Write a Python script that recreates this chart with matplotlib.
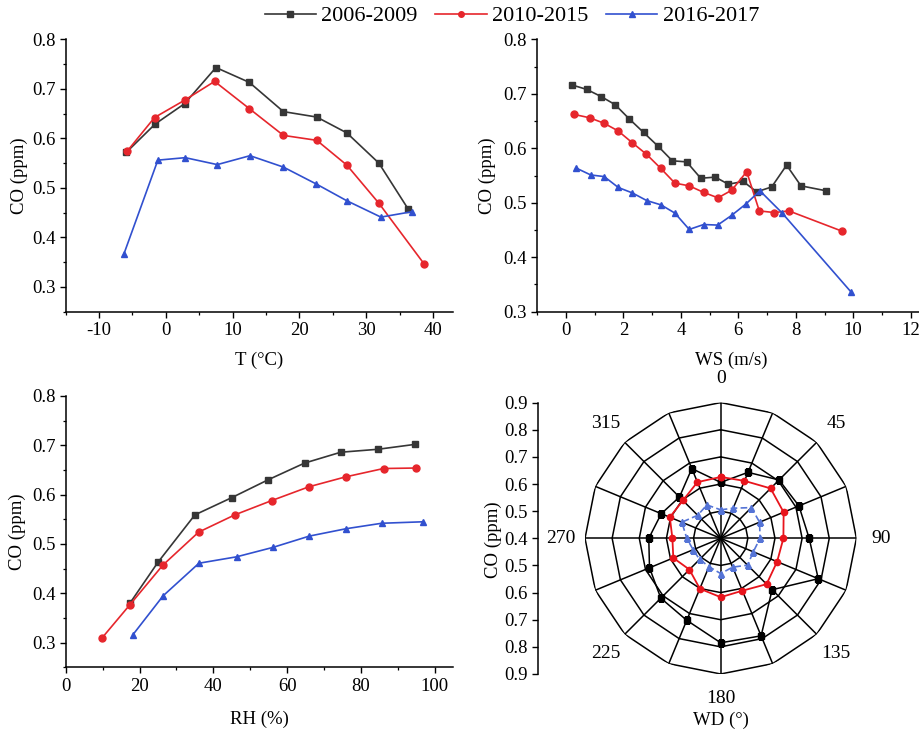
import numpy as np
import matplotlib
matplotlib.use('Agg')
import matplotlib.pyplot as plt
from matplotlib.lines import Line2D
from matplotlib.ticker import MultipleLocator

plt.rcParams['font.family'] = ['Liberation Serif', 'DejaVu Serif']
plt.rcParams['mathtext.fontset'] = 'stix'
plt.rcParams['axes.unicode_minus'] = False

C_BLACK = '#363636'
C_RED = '#E6262C'
C_BLUE = '#3150CF'
PERIODS = ['2006-2009', '2010-2015', '2016-2017']

# ── Temperature ──────────────────────────────────────────────────────────────
t_black = [-5.9, -1.6, 2.8, 7.5, 12.5, 17.6, 22.6, 27.1, 31.9, 36.3]
co_t_black = [0.572, 0.629, 0.670, 0.743, 0.713, 0.654, 0.643, 0.611, 0.550, 0.457]
t_red = [-5.8, -1.7, 2.8, 7.3, 12.5, 17.6, 22.6, 27.1, 31.9, 38.7]
co_t_red = [0.574, 0.642, 0.677, 0.715, 0.660, 0.606, 0.596, 0.546, 0.469, 0.346]
t_blue = [-6.3, -1.2, 2.9, 7.7, 12.6, 17.6, 22.5, 27.1, 32.2, 36.9]
co_t_blue = [0.366, 0.556, 0.561, 0.547, 0.565, 0.542, 0.508, 0.474, 0.441, 0.452]

# ── Wind speed ───────────────────────────────────────────────────────────────
ws_black = [0.22, 0.72, 1.22, 1.71, 2.20, 2.70, 3.20, 3.70, 4.20, 4.69, 5.20,
            5.65, 6.17, 6.64, 7.16, 7.68, 8.18, 9.05]
co_ws_black = [0.716, 0.708, 0.695, 0.680, 0.654, 0.629, 0.604, 0.577, 0.575,
               0.545, 0.547, 0.534, 0.539, 0.520, 0.529, 0.569, 0.531, 0.522]
ws_red = [0.29, 0.82, 1.32, 1.81, 2.31, 2.80, 3.30, 3.79, 4.29, 4.79, 5.29,
          5.77, 6.29, 6.73, 7.25, 7.76, 9.60]
co_ws_red = [0.662, 0.656, 0.646, 0.632, 0.610, 0.589, 0.563, 0.536, 0.531,
             0.519, 0.509, 0.523, 0.557, 0.485, 0.482, 0.485, 0.448]
ws_blue = [0.34, 0.86, 1.33, 1.82, 2.31, 2.81, 3.31, 3.79, 4.29, 4.79, 5.28,
           5.77, 6.27, 6.75, 7.51, 9.91]
co_ws_blue = [0.564, 0.551, 0.548, 0.528, 0.518, 0.504, 0.496, 0.481, 0.451,
              0.460, 0.459, 0.477, 0.498, 0.522, 0.482, 0.337]

# ── Relative humidity ────────────────────────────────────────────────────────
rh_black = [17.4, 25.0, 35.0, 45.0, 54.8, 64.7, 74.5, 84.6, 94.7]
co_rh_black = [0.380, 0.463, 0.559, 0.594, 0.630, 0.664, 0.686, 0.692, 0.702]
rh_red = [9.9, 17.3, 26.3, 36.0, 45.8, 55.8, 65.9, 75.8, 86.1, 95.0]
co_rh_red = [0.310, 0.376, 0.457, 0.524, 0.559, 0.588, 0.616, 0.636, 0.653, 0.654]
rh_blue = [18.2, 26.4, 36.1, 46.3, 56.1, 66.0, 76.0, 85.6, 96.8]
co_rh_blue = [0.316, 0.395, 0.461, 0.474, 0.493, 0.516, 0.531, 0.542, 0.545]

# ── Wind direction (radar) ───────────────────────────────────────────────────
wd_deg = [0, 22.5, 45, 67.5, 90, 112.5, 135, 157.5,
          180, 202.5, 225, 247.5, 270, 292.5, 315, 337.5]
co_wd_black = [0.606, 0.663, 0.704, 0.712, 0.726, 0.789, 0.668, 0.789,
               0.785, 0.727, 0.712, 0.684, 0.665, 0.637, 0.615, 0.678]
co_wd_red = [0.626, 0.629, 0.660, 0.651, 0.631, 0.625, 0.639, 0.609,
             0.617, 0.601, 0.563, 0.589, 0.578, 0.603, 0.597, 0.624]
co_wd_blue = [0.505, 0.520, 0.560, 0.555, 0.545, 0.530, 0.540, 0.515,
              0.530, 0.513, 0.510, 0.510, 0.525, 0.555, 0.520, 0.533]
ring_levels = [0.5, 0.6, 0.7, 0.8, 0.9]
wd_label_deg = [0, 45, 90, 135, 180, 225, 270, 315]
wd_labels = ['0', '45', '90', '135', '180', '225', '270', '315']
radar_tick_labels = ['0.9', '0.8', '0.7', '0.6', '0.5', '0.4',
                     '0.5', '0.6', '0.7', '0.8', '0.9']

W, H = 920, 733
fig = plt.figure(figsize=(W / 100, H / 100), dpi=100)


def px_axes(left, top, right, bottom, **kw):
    return fig.add_axes([left / W, 1 - bottom / H, (right - left) / W, (bottom - top) / H], **kw)


def style(ax):
    for s in ['top', 'right']:
        ax.spines[s].set_visible(False)
    for s in ['left', 'bottom']:
        ax.spines[s].set_linewidth(1.1)
    ax.tick_params(which='major', direction='out', length=4, width=1.0, labelsize=13.5)
    ax.tick_params(which='minor', direction='out', length=2.5, width=0.9)
    ax.set_ylabel('CO (ppm)', fontsize=13.5)


def draw(ax, xs, ys):
    kw = dict(linewidth=1.2, markersize=5)
    ax.plot(xs[0], ys[0], '-s', color=C_BLACK, **kw)
    ax.plot(xs[1], ys[1], '-o', color=C_RED, **kw)
    ax.plot(xs[2], ys[2], '-^', color=C_BLUE, **kw)


# ── Plot 1: T ────────────────────────────────────────────────────────────────
ax1 = px_axes(65.7, 39.3, 453, 311.7)
draw(ax1, [t_black, t_red, t_blue], [co_t_black, co_t_red, co_t_blue])
ax1.set_xlim(-15, 43)
ax1.set_ylim(0.25, 0.8)
ax1.xaxis.set_major_locator(MultipleLocator(10))
ax1.xaxis.set_minor_locator(MultipleLocator(5))
ax1.yaxis.set_major_locator(MultipleLocator(0.1))
ax1.yaxis.set_minor_locator(MultipleLocator(0.05))
style(ax1)
ax1.set_xlabel('T (°C)', fontsize=13.5)
ax1.xaxis.set_label_coords(0.5, -0.146)
ax1.yaxis.set_label_coords(-0.097, 0.5)

# ── Plot 2: WS ───────────────────────────────────────────────────────────────
ax2 = px_axes(537.3, 39.3, 919.3, 311.7)
draw(ax2, [ws_black, ws_red, ws_blue], [co_ws_black, co_ws_red, co_ws_blue])
ax2.set_xlim(-1, 12.3)
ax2.set_ylim(0.3, 0.8)
ax2.xaxis.set_major_locator(MultipleLocator(2))
ax2.xaxis.set_minor_locator(MultipleLocator(1))
ax2.yaxis.set_major_locator(MultipleLocator(0.1))
ax2.yaxis.set_minor_locator(MultipleLocator(0.05))
style(ax2)
ax2.set_xlabel('WS (m/s)', fontsize=13.5)
ax2.xaxis.set_label_coords(0.509, -0.146)
ax2.yaxis.set_label_coords(-0.108, 0.5)

# ── Plot 3: RH ───────────────────────────────────────────────────────────────
ax3 = px_axes(65.7, 396, 453.3, 667.3)
draw(ax3, [rh_black, rh_red, rh_blue], [co_rh_black, co_rh_red, co_rh_blue])
ax3.set_xlim(0, 105)
ax3.set_ylim(0.25, 0.8)
ax3.xaxis.set_major_locator(MultipleLocator(20))
ax3.xaxis.set_minor_locator(MultipleLocator(10))
ax3.yaxis.set_major_locator(MultipleLocator(0.1))
ax3.yaxis.set_minor_locator(MultipleLocator(0.05))
style(ax3)
ax3.set_xlabel('RH (%)', fontsize=13.5)
ax3.xaxis.set_label_coords(0.5, -0.16)
ax3.yaxis.set_label_coords(-0.102, 0.5)

# ── Plot 4: WD radar ─────────────────────────────────────────────────────────
axp = px_axes(585, 402.6, 856.4, 674, projection='polar')
axp.set_theta_zero_location('N')
axp.set_theta_direction(-1)
axp.set_ylim(0.4, 0.9)
axp.grid(False)
axp.set_xticks([])
axp.set_yticks([])
axp.spines['polar'].set_visible(False)
axp.patch.set_alpha(0)

theta = np.deg2rad(wd_deg + [wd_deg[0]])
for r in ring_levels:
    axp.plot(theta, [r] * len(theta), color='black', linewidth=1.1, zorder=1)
for a in np.deg2rad(wd_deg):
    axp.plot([a, a], [0.4, 0.9], color='black', linewidth=1.1, zorder=1)

axp.plot(theta, co_wd_black + co_wd_black[:1], '-s', color='black',
         linewidth=1.1, markersize=4.5, zorder=3)
axp.plot(theta, co_wd_red + co_wd_red[:1], '-o', color='#E8141C',
         linewidth=1.3, markersize=4.5, zorder=4)
axp.plot(theta, co_wd_blue + co_wd_blue[:1], '--^', color='#5574D6',
         linewidth=1.2, markersize=4.5, dashes=(4, 2), zorder=5)

for d, lab in zip(wd_label_deg, wd_labels):
    rr = 1.0 if d % 90 else 0.99
    axp.text(np.deg2rad(d), rr, lab, ha='center', va='center',
             fontsize=14, clip_on=False)
fig.text(720.7 / W, 1 - 720 / H, 'WD (°)', ha='center', va='center', fontsize=13.5)

# scale axis on the left of the radar
axs = px_axes(538.3, 402.6, 539.3, 674)
axs.set_ylim(-0.5, 0.5)
axs.set_yticks(np.linspace(-0.5, 0.5, len(radar_tick_labels)))
axs.set_yticklabels(radar_tick_labels[::-1])
axs.set_xticks([])
for s in ['top', 'right', 'bottom']:
    axs.spines[s].set_visible(False)
axs.spines['left'].set_linewidth(1.1)
axs.patch.set_alpha(0)
axs.tick_params(axis='y', direction='out', length=4, width=1.0, labelsize=13.5)
fig.text(493 / W, 1 - 540 / H, 'CO (ppm)', rotation=90, ha='center', va='center', fontsize=13.5)

# ── Legend ───────────────────────────────────────────────────────────────────
handles = [
    Line2D([], [], color=C_BLACK, marker='s', markersize=4, linewidth=1.2),
    Line2D([], [], color=C_RED, marker='o', markersize=4, linewidth=1.2),
    Line2D([], [], color=C_BLUE, marker='^', markersize=4, linewidth=1.2),
]
fig.legend(handles, PERIODS, loc='center', bbox_to_anchor=(512 / W, 1 - 16 / H),
           ncol=3, frameon=False, fontsize=16, handlelength=2.3,
           handletextpad=0.25, columnspacing=0.8, borderpad=0)

fig.savefig('out.png', dpi=100)
